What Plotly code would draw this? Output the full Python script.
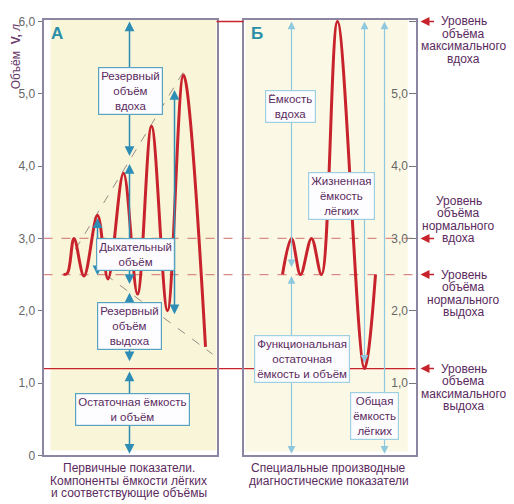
import plotly.graph_objects as go

W, H = 514, 504

# ─── DATOS ──────────────────────────────────────────────────
# eje y: volumen en litros
y_ticks = [0, 1, 2, 3, 4, 5, 6]
y_ticktext = ["0", "1,0", "2,0", "3,0", "4,0", "5,0", "6,0"]

# panel A: espirograma (t = unidades de tiempo desde el borde del panel)
a_t = [20, 24, 30.5, 40.5, 54, 64.5, 80, 94, 108, 124, 140, 162]
a_v = [2.5, 2.52, 3.0, 2.48, 3.32, 2.44, 3.9, 2.23, 4.55, 2.0, 5.26, 1.5]

# panel B: espirograma
b_t = [39, 48, 57, 68, 78, 94, 121, 132]
b_v = [2.5, 3.0, 2.5, 3.0, 2.5, 6.0, 1.2, 2.5]

# líneas guía punteadas del panel A
upper_guide_t = [32, 142]
upper_guide_v = [2.85, 5.35]
lower_guide_t = [62, 169]
lower_guide_v = [2.5, 1.4]

# flechas (segmentos verticales) panel A y B
a_arrow_t = [86, 86, 86, 86, 54, 131]
a_arrow_top = [6.0, 4.03, 2.25, 1.16, 3.28, 5.05]
a_arrow_bot = [4.12, 2.35, 1.28, 0.0, 2.47, 1.93]

b_arrow_t = [48, 48, 121, 141]
b_arrow_top = [6.0, 2.48, 6.0, 6.0]
b_arrow_bot = [2.58, 0.0, 1.26, 0.0]

# niveles a la derecha
levels = [6.0, 3.0, 2.5, 1.2]
level_text = [
    ["Уровень", "объёма", "максимального", "вдоха"],
    ["Уровень", "объёма", "нормального", "вдоха"],
    ["Уровень", "объёма", "нормального", "выдоха"],
    ["Уровень", "объема", "максимального", "выдоха"],
]
level_anchor = [0, 3, 0, 0]

# cajas de texto
a_boxes = [
    ("Резервный<br>объём<br>вдоха", 87, 5.04),
    ("Дыхательный<br>объём", 92, 2.78),
    ("Резервный<br>объём<br>выдоха", 86, 1.79),
    ("Остаточная ёмкость<br>и объём", 89, 0.63),
]
b_boxes = [
    ("Ёмкость<br>вдоха", 47, 4.82),
    ("Жизненная<br>ёмкость<br>лёгких", 98, 3.59),
    ("Функциональная<br>остаточная<br>ёмкость и объём", 58, 1.33),
    ("Общая<br>ёмкость<br>лёгких", 131, 0.54),
]

caption_a = ["Первичные показатели.", "Компоненты ёмкости лёгких", "и соответствующие объёмы"]
caption_b = ["Специальные производные", "диагностические показатели"]

# ─── ESTILO ─────────────────────────────────────────────────
RED = "#c8232c"
TEAL = "#2e8db5"
LIGHT = "#8ec8de"
PURPLE = "#5b2a5e"
BORDER = "#8d86a3"
FONT = "Liberation Sans, Arial, sans-serif"
PX_PER_L = 438 / 6.02

# compensación del desplazamiento de la página (margen del body)
OFF_X, OFF_Y, SY = 7.5, 8.0, 0.982


def px(xr):
    return (xr - OFF_X) / W


def py(yr):
    return 1 - (yr - OFF_Y) / SY / H


fig = go.Figure()

fig.add_trace(go.Scatter(x=a_t, y=a_v, mode="lines", xaxis="x", yaxis="y",
                         line=dict(color=RED, width=3, shape="spline", smoothing=1.0),
                         hoverinfo="skip", showlegend=False))
fig.add_trace(go.Scatter(x=b_t, y=b_v, mode="lines", xaxis="x2", yaxis="y2",
                         line=dict(color=RED, width=3, shape="spline", smoothing=1.0),
                         hoverinfo="skip", showlegend=False))

axis_common = dict(showgrid=False, zeroline=False, showline=True, linecolor=BORDER,
                   linewidth=2, mirror=True)
ydom = [py(453), py(15)]
fig.update_layout(
    width=W, height=H,
    margin=dict(l=0, r=0, t=0, b=0),
    paper_bgcolor="white",
    plot_bgcolor="rgba(0,0,0,0)",
    font=dict(family=FONT, color=PURPLE),
    xaxis=dict(domain=[px(43), px(216)], range=[0, 173], showticklabels=False,
               ticks="", anchor="y", **axis_common),
    xaxis2=dict(domain=[px(243), px(415)], range=[0, 172], showticklabels=False,
                ticks="", anchor="y2", **axis_common),
    yaxis=dict(domain=ydom, range=[0, 6.02], anchor="x",
               tickvals=y_ticks, ticktext=y_ticktext, ticks="outside", ticklen=4,
               tickcolor="#777", tickfont=dict(size=12, color="#666", family=FONT),
               **axis_common),
    yaxis2=dict(domain=ydom, range=[0, 6.02], anchor="x2",
                side="right", tickvals=y_ticks, ticktext=y_ticktext, ticks="inside",
                ticklen=7, tickcolor="#777", ticklabelposition="inside",
                tickfont=dict(size=12, color="#666", family=FONT), **axis_common),
)

# fondos de los paneles (con franja blanca interior a la izquierda y abajo)
fig.add_shape(type="rect", xref="x domain", yref="y domain", x0=0.04, x1=1, y0=0.011, y1=1,
              fillcolor="#f8f5d9", line_width=0, layer="below")
fig.add_shape(type="rect", xref="x2 domain", yref="y2 domain", x0=0.012, x1=0.955,
              y0=0.009, y1=1, fillcolor="#fbf9e5", line_width=0, layer="below")

# líneas de nivel
for lv in levels:
    if lv == 6.0:
        fig.add_shape(type="line", xref="paper", yref="y", x0=px(216), x1=px(243),
                      y0=lv, y1=lv, line=dict(color=RED, width=1.5))
    elif lv == 1.2:
        fig.add_shape(type="line", xref="paper", yref="y", x0=px(43), x1=px(415),
                      y0=lv, y1=lv, line=dict(color=RED, width=1.2), layer="below")
    else:
        fig.add_shape(type="line", xref="paper", yref="y", x0=px(43), x1=px(415),
                      y0=lv, y1=lv, line=dict(color="#d98a82", width=1.2, dash="dash"),
                      layer="below")

# guías diagonales
for gt, gv in [(upper_guide_t, upper_guide_v), (lower_guide_t, lower_guide_v)]:
    fig.add_shape(type="line", xref="x", yref="y", x0=gt[0], x1=gt[1], y0=gv[0], y1=gv[1],
                  line=dict(color="#9a8c84", width=1, dash="dash"), layer="below")

# flechas verticales
for t, top, bot in zip(a_arrow_t, a_arrow_top, a_arrow_bot):
    fig.add_annotation(x=t, y=top, ax=t, ay=bot, xref="x", yref="y", axref="x", ayref="y",
                       text="", showarrow=True, arrowside="end+start", arrowhead=2,
                       startarrowhead=2, arrowsize=1.3, startarrowsize=1.3,
                       arrowwidth=1.5, arrowcolor=TEAL)
for t, top, bot in zip(b_arrow_t, b_arrow_top, b_arrow_bot):
    fig.add_annotation(x=t, y=top, ax=t, ay=bot, xref="x2", yref="y2", axref="x2", ayref="y2",
                       text="", showarrow=True, arrowside="end+start", arrowhead=2,
                       startarrowhead=2, arrowsize=1.3, startarrowsize=1.3,
                       arrowwidth=1.2, arrowcolor=LIGHT)

# cajas
for txt, t, v in a_boxes:
    fig.add_annotation(x=t, y=v, xref="x", yref="y", text=txt, showarrow=False,
                       xanchor="center", yanchor="middle",
                       bgcolor="#fdfdff", bordercolor="#5aa3c0", borderwidth=1.2,
                       borderpad=2, font=dict(size=11.5, color=PURPLE))
for txt, t, v in b_boxes:
    fig.add_annotation(x=t, y=v, xref="x2", yref="y2", text=txt, showarrow=False,
                       xanchor="center", yanchor="middle",
                       bgcolor="#fdfdff", bordercolor="#9fd0e2", borderwidth=1.2,
                       borderpad=2, font=dict(size=11.5, color=PURPLE))

# letras de los paneles
fig.add_annotation(x=0.03, y=0.995, xref="x domain", yref="y domain", text="<b>А</b>",
                   showarrow=False, xanchor="left", yanchor="top",
                   font=dict(size=17, color="#2a8fa8"))
fig.add_annotation(x=0.03, y=0.995, xref="x2 domain", yref="y2 domain", text="<b>Б</b>",
                   showarrow=False, xanchor="left", yanchor="top",
                   font=dict(size=17, color="#2a8fa8"))

# título del eje y
fig.add_annotation(x=px(15), y=py(52), xref="paper", yref="paper",
                   text="Объём  <b>V,</b> <i>л</i>", textangle=-90, showarrow=False,
                   xanchor="center", yanchor="middle",
                   font=dict(size=12, color="#6a3a6a"))

# niveles: flechas rojas y textos
centers = [463, 458, 463, 463]
for lv, lines, anc, cx in zip(levels, level_text, level_anchor, centers):
    fig.add_annotation(x=px(420), y=lv, xref="paper", yref="y", ax=15, ay=0,
                       text="", showarrow=True, arrowhead=2, arrowsize=1.2,
                       arrowwidth=1.5, arrowcolor=RED)
    for i, line in enumerate(lines):
        fig.add_annotation(x=px(cx), y=lv - (i - anc) * 12.6 / PX_PER_L, xref="paper",
                           yref="y", text=line, showarrow=False,
                           xanchor="center", yanchor="middle",
                           font=dict(size=12, color=PURPLE))

# pies de figura
for i, line in enumerate(caption_a):
    fig.add_annotation(x=px(128), y=py(466 + i * 12.3), xref="paper", yref="paper",
                       text=line, showarrow=False, xanchor="center", yanchor="middle",
                       font=dict(size=12, color=PURPLE))
for i, line in enumerate(caption_b):
    fig.add_annotation(x=px(328), y=py(466 + i * 12.3), xref="paper", yref="paper",
                       text=line, showarrow=False, xanchor="center", yanchor="middle",
                       font=dict(size=12, color=PURPLE))

fig.write_html("out.html")
